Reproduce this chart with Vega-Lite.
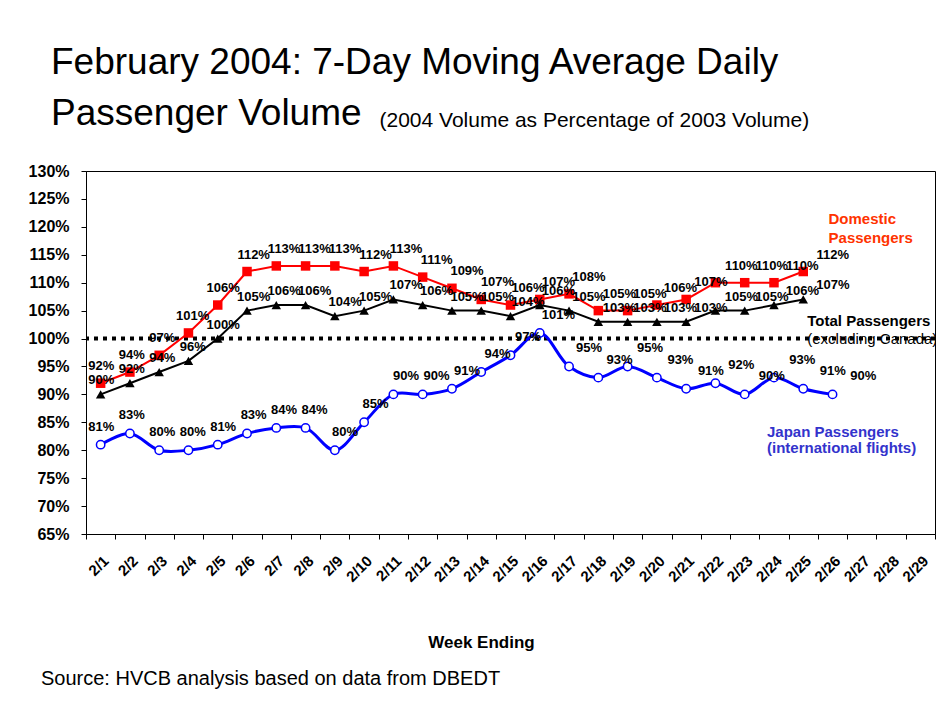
{
  "$schema": "https://vega.github.io/schema/vega-lite/v6.json",
  "background": "white",
  "autosize": {"type": "pad"},
  "padding": {"left": 27, "top": 43, "right": 0, "bottom": 0},
  "config": {
    "font": "Liberation Sans",
    "view": {"stroke": "black", "strokeWidth": 1},
    "axis": {"domainColor": "black", "tickColor": "black", "labelColor": "black", "titleColor": "black", "grid": false, "domainWidth": 1, "tickWidth": 1},
    "axisY": {"labelFontSize": 16, "labelFontWeight": "bold", "labelPadding": 12, "labelFlush": false, "labelOverlap": false, "tickSize": 5}
  },
  "title": {
    "text": "Source:  HVCB analysis based on data from DBEDT",
    "orient": "bottom", "anchor": "start", "frame": "group",
    "font": "Liberation Sans", "fontSize": 20, "fontWeight": "normal", "color": "black",
    "offset": 18, "dx": -45
  },
  "datasets": {
    "series": [
      {"date": "2/1", "series": "Domestic", "value": 0.92},
      {"date": "2/2", "series": "Domestic", "value": 0.94},
      {"date": "2/3", "series": "Domestic", "value": 0.97},
      {"date": "2/4", "series": "Domestic", "value": 1.01},
      {"date": "2/5", "series": "Domestic", "value": 1.06},
      {"date": "2/6", "series": "Domestic", "value": 1.12},
      {"date": "2/7", "series": "Domestic", "value": 1.13},
      {"date": "2/8", "series": "Domestic", "value": 1.13},
      {"date": "2/9", "series": "Domestic", "value": 1.13},
      {"date": "2/10", "series": "Domestic", "value": 1.12},
      {"date": "2/11", "series": "Domestic", "value": 1.13},
      {"date": "2/12", "series": "Domestic", "value": 1.11},
      {"date": "2/13", "series": "Domestic", "value": 1.09},
      {"date": "2/14", "series": "Domestic", "value": 1.07},
      {"date": "2/15", "series": "Domestic", "value": 1.06},
      {"date": "2/16", "series": "Domestic", "value": 1.07},
      {"date": "2/17", "series": "Domestic", "value": 1.08},
      {"date": "2/18", "series": "Domestic", "value": 1.05},
      {"date": "2/19", "series": "Domestic", "value": 1.05},
      {"date": "2/20", "series": "Domestic", "value": 1.06},
      {"date": "2/21", "series": "Domestic", "value": 1.07},
      {"date": "2/22", "series": "Domestic", "value": 1.10},
      {"date": "2/23", "series": "Domestic", "value": 1.10},
      {"date": "2/24", "series": "Domestic", "value": 1.10},
      {"date": "2/25", "series": "Domestic", "value": 1.12},
      {"date": "2/1", "series": "Total", "value": 0.90},
      {"date": "2/2", "series": "Total", "value": 0.92},
      {"date": "2/3", "series": "Total", "value": 0.94},
      {"date": "2/4", "series": "Total", "value": 0.96},
      {"date": "2/5", "series": "Total", "value": 1.00},
      {"date": "2/6", "series": "Total", "value": 1.05},
      {"date": "2/7", "series": "Total", "value": 1.06},
      {"date": "2/8", "series": "Total", "value": 1.06},
      {"date": "2/9", "series": "Total", "value": 1.04},
      {"date": "2/10", "series": "Total", "value": 1.05},
      {"date": "2/11", "series": "Total", "value": 1.07},
      {"date": "2/12", "series": "Total", "value": 1.06},
      {"date": "2/13", "series": "Total", "value": 1.05},
      {"date": "2/14", "series": "Total", "value": 1.05},
      {"date": "2/15", "series": "Total", "value": 1.04},
      {"date": "2/16", "series": "Total", "value": 1.06},
      {"date": "2/17", "series": "Total", "value": 1.05},
      {"date": "2/18", "series": "Total", "value": 1.03},
      {"date": "2/19", "series": "Total", "value": 1.03},
      {"date": "2/20", "series": "Total", "value": 1.03},
      {"date": "2/21", "series": "Total", "value": 1.03},
      {"date": "2/22", "series": "Total", "value": 1.05},
      {"date": "2/23", "series": "Total", "value": 1.05},
      {"date": "2/24", "series": "Total", "value": 1.06},
      {"date": "2/25", "series": "Total", "value": 1.07},
      {"date": "2/1", "series": "Japan", "value": 0.81},
      {"date": "2/2", "series": "Japan", "value": 0.83},
      {"date": "2/3", "series": "Japan", "value": 0.80},
      {"date": "2/4", "series": "Japan", "value": 0.80},
      {"date": "2/5", "series": "Japan", "value": 0.81},
      {"date": "2/6", "series": "Japan", "value": 0.83},
      {"date": "2/7", "series": "Japan", "value": 0.84},
      {"date": "2/8", "series": "Japan", "value": 0.84},
      {"date": "2/9", "series": "Japan", "value": 0.80},
      {"date": "2/10", "series": "Japan", "value": 0.85},
      {"date": "2/11", "series": "Japan", "value": 0.90},
      {"date": "2/12", "series": "Japan", "value": 0.90},
      {"date": "2/13", "series": "Japan", "value": 0.91},
      {"date": "2/14", "series": "Japan", "value": 0.94},
      {"date": "2/15", "series": "Japan", "value": 0.97},
      {"date": "2/16", "series": "Japan", "value": 1.01},
      {"date": "2/17", "series": "Japan", "value": 0.95},
      {"date": "2/18", "series": "Japan", "value": 0.93},
      {"date": "2/19", "series": "Japan", "value": 0.95},
      {"date": "2/20", "series": "Japan", "value": 0.93},
      {"date": "2/21", "series": "Japan", "value": 0.91},
      {"date": "2/22", "series": "Japan", "value": 0.92},
      {"date": "2/23", "series": "Japan", "value": 0.90},
      {"date": "2/24", "series": "Japan", "value": 0.93},
      {"date": "2/25", "series": "Japan", "value": 0.91},
      {"date": "2/26", "series": "Japan", "value": 0.90}
    ],
    "reference": [{"value": 1.0}],
    "notes": [
      {"key": "Domestic", "note": "Domestic\nPassengers"},
      {"key": "Total", "note": "Total Passengers"},
      {"key": "TotalSub", "note": "(excluding Canada)"},
      {"key": "Japan", "note": "Japan Passengers\n(international flights)"}
    ]
  },
  "vconcat": [
    {
      "width": 849,
      "height": 363,
      "title": {
        "text": ["February 2004: 7-Day Moving Average Daily", "Passenger Volume"],
        "orient": "top", "anchor": "start", "frame": "group",
        "font": "Liberation Sans", "fontSize": 37, "fontWeight": "normal", "color": "black",
        "baseline": "alphabetic", "lineHeight": 51, "dx": -35, "offset": -53
      },
      "layer": [
        {
          "data": {"name": "reference"},
          "mark": {"type": "rule", "color": "black", "strokeWidth": 4, "strokeDash": [4, 5]},
          "encoding": {
            "y": {
              "field": "value", "type": "quantitative",
              "scale": {"domain": [0.65, 1.3], "nice": false, "zero": false},
              "axis": {
                "values": [0.65, 0.7, 0.75, 0.8, 0.85, 0.9, 0.95, 1.0, 1.05, 1.1, 1.15, 1.2, 1.25, 1.3],
                "format": ".0%",
                "title": "(2004 Volume as Percentage of 2003 Volume)",
                "titleAngle": 0, "titleX": 293, "titleY": -45, "titleAlign": "left", "titleBaseline": "alphabetic",
                "titleFontSize": 21, "titleFontWeight": "normal",
                "labelFontSize": 16, "labelFontWeight": "bold", "labelPadding": 12, "labelFlush": false, "labelOverlap": false,
                "tickSize": 5, "grid": false
              }
            }
          }
        },
        {
          "data": {"name": "series"},
          "encoding": {
            "x": {
              "field": "date", "type": "ordinal", "sort": null, "bandPosition": 0.5,
              "scale": {"type": "band", "domain": ["2/1","2/2","2/3","2/4","2/5","2/6","2/7","2/8","2/9","2/10","2/11","2/12","2/13","2/14","2/15","2/16","2/17","2/18","2/19","2/20","2/21","2/22","2/23","2/24","2/25","2/26","2/27","2/28","2/29"], "paddingInner": 0, "paddingOuter": 0},
              "axis": {
                "title": "Week Ending", "tickBand": "extent", "labelAngle": -45,
                "labelFontSize": 15, "labelFontWeight": "bold", "labelPadding": 14, "tickSize": 5,
                "titleFontSize": 17, "titleFontWeight": "bold", "titleX": 395, "titleY": 113,
                "titleAlign": "center", "titleBaseline": "alphabetic"
              }
            },
            "y": {
              "field": "value", "type": "quantitative",
              "scale": {"domain": [0.65, 1.3], "nice": false, "zero": false},
              "axis": {
                "values": [0.65, 0.7, 0.75, 0.8, 0.85, 0.9, 0.95, 1.0, 1.05, 1.1, 1.15, 1.2, 1.25, 1.3],
                "format": ".0%",
                "title": "(2004 Volume as Percentage of 2003 Volume)",
                "titleAngle": 0, "titleX": 293, "titleY": -45, "titleAlign": "left", "titleBaseline": "alphabetic",
                "titleFontSize": 21, "titleFontWeight": "normal",
                "labelFontSize": 16, "labelFontWeight": "bold", "labelPadding": 12, "labelFlush": false, "labelOverlap": false,
                "tickSize": 5, "grid": false
              }
            }
          },
          "layer": [
            {"transform": [{"filter": "datum.series === 'Domestic'"}], "mark": {"type": "line", "color": "#FF0000", "strokeWidth": 2}},
            {"transform": [{"filter": "datum.series === 'Domestic'"}], "mark": {"type": "point", "shape": "square", "filled": true, "color": "#FF0000", "size": 90, "opacity": 1}},
            {"transform": [{"filter": "datum.series === 'Total'"}], "mark": {"type": "line", "color": "#000000", "strokeWidth": 2}},
            {"transform": [{"filter": "datum.series === 'Total'"}], "mark": {"type": "point", "shape": "triangle-up", "filled": true, "color": "#000000", "size": 90, "opacity": 1}},
            {"transform": [{"filter": "datum.series === 'Japan'"}], "mark": {"type": "line", "color": "#0000FF", "strokeWidth": 3, "interpolate": "catmull-rom"}},
            {"transform": [{"filter": "datum.series === 'Japan'"}], "mark": {"type": "point", "shape": "circle", "filled": true, "fill": "white", "stroke": "#0000FF", "strokeWidth": 1.5, "size": 70, "opacity": 1}}
          ]
        },
        {
          "data": {"name": "notes"},
          "layer": [
            {
              "transform": [{"filter": "datum.key === 'Domestic'"}],
              "mark": {"type": "text", "align": "left", "baseline": "alphabetic", "dx": -4, "fontSize": 15, "fontWeight": "bold", "color": "#FF3300", "lineBreak": "\n", "lineHeight": 19},
              "encoding": {
                "x": {"datum": "2/26", "type": "ordinal", "scale": {"type": "band", "domain": ["2/1","2/2","2/3","2/4","2/5","2/6","2/7","2/8","2/9","2/10","2/11","2/12","2/13","2/14","2/15","2/16","2/17","2/18","2/19","2/20","2/21","2/22","2/23","2/24","2/25","2/26","2/27","2/28","2/29"], "paddingInner": 0, "paddingOuter": 0}, "axis": null},
                "y": {"datum": 1.2051, "type": "quantitative", "axis": {"values": [0.65, 0.7, 0.75, 0.8, 0.85, 0.9, 0.95, 1.0, 1.05, 1.1, 1.15, 1.2, 1.25, 1.3], "format": ".0%", "title": "(2004 Volume as Percentage of 2003 Volume)", "titleAngle": 0, "titleX": 293, "titleY": -45, "titleAlign": "left", "titleBaseline": "alphabetic", "titleFontSize": 21, "titleFontWeight": "normal", "labelFontSize": 16, "labelFontWeight": "bold", "labelPadding": 12, "labelFlush": false, "labelOverlap": false, "tickSize": 5, "grid": false}},
                "text": {"field": "note", "type": "nominal"}
              }
            },
            {
              "transform": [{"filter": "datum.key === 'Total'"}],
              "mark": {"type": "text", "align": "left", "baseline": "alphabetic", "dx": 4, "fontSize": 15, "fontWeight": "bold", "color": "black"},
              "encoding": {
                "x": {"datum": "2/25", "type": "ordinal", "axis": null},
                "y": {"datum": 1.0225, "type": "quantitative", "axis": {"values": [0.65, 0.7, 0.75, 0.8, 0.85, 0.9, 0.95, 1.0, 1.05, 1.1, 1.15, 1.2, 1.25, 1.3], "format": ".0%", "title": "(2004 Volume as Percentage of 2003 Volume)", "titleAngle": 0, "titleX": 293, "titleY": -45, "titleAlign": "left", "titleBaseline": "alphabetic", "titleFontSize": 21, "titleFontWeight": "normal", "labelFontSize": 16, "labelFontWeight": "bold", "labelPadding": 12, "labelFlush": false, "labelOverlap": false, "tickSize": 5, "grid": false}},
                "text": {"field": "note", "type": "nominal"}
              }
            },
            {
              "transform": [{"filter": "datum.key === 'TotalSub'"}],
              "mark": {"type": "text", "align": "left", "baseline": "alphabetic", "dx": 4, "fontSize": 15, "fontWeight": "normal", "color": "black"},
              "encoding": {
                "x": {"datum": "2/25", "type": "ordinal", "axis": null},
                "y": {"datum": 0.9902, "type": "quantitative", "axis": {"values": [0.65, 0.7, 0.75, 0.8, 0.85, 0.9, 0.95, 1.0, 1.05, 1.1, 1.15, 1.2, 1.25, 1.3], "format": ".0%", "title": "(2004 Volume as Percentage of 2003 Volume)", "titleAngle": 0, "titleX": 293, "titleY": -45, "titleAlign": "left", "titleBaseline": "alphabetic", "titleFontSize": 21, "titleFontWeight": "normal", "labelFontSize": 16, "labelFontWeight": "bold", "labelPadding": 12, "labelFlush": false, "labelOverlap": false, "tickSize": 5, "grid": false}},
                "text": {"field": "note", "type": "nominal"}
              }
            },
            {
              "transform": [{"filter": "datum.key === 'Japan'"}],
              "mark": {"type": "text", "align": "left", "baseline": "alphabetic", "dx": -7, "fontSize": 15, "fontWeight": "bold", "color": "#3333CC", "lineBreak": "\n", "lineHeight": 16},
              "encoding": {
                "x": {"datum": "2/24", "type": "ordinal", "axis": null},
                "y": {"datum": 0.8237, "type": "quantitative", "axis": {"values": [0.65, 0.7, 0.75, 0.8, 0.85, 0.9, 0.95, 1.0, 1.05, 1.1, 1.15, 1.2, 1.25, 1.3], "format": ".0%", "title": "(2004 Volume as Percentage of 2003 Volume)", "titleAngle": 0, "titleX": 293, "titleY": -45, "titleAlign": "left", "titleBaseline": "alphabetic", "titleFontSize": 21, "titleFontWeight": "normal", "labelFontSize": 16, "labelFontWeight": "bold", "labelPadding": 12, "labelFlush": false, "labelOverlap": false, "tickSize": 5, "grid": false}},
                "text": {"field": "note", "type": "nominal"}
              }
            }
          ]
        },
        {
          "data": {"name": "series"},
          "encoding": {
            "x": {
              "field": "date", "type": "ordinal", "sort": null, "bandPosition": 0.5,
              "scale": {"type": "band", "domain": ["2/1","2/2","2/3","2/4","2/5","2/6","2/7","2/8","2/9","2/10","2/11","2/12","2/13","2/14","2/15","2/16","2/17","2/18","2/19","2/20","2/21","2/22","2/23","2/24","2/25","2/26","2/27","2/28","2/29"], "range": [0, 884], "paddingInner": 0, "paddingOuter": 0},
              "axis": null
            },
            "y": {
              "field": "value", "type": "quantitative",
              "scale": {"domain": [0.65, 1.3], "nice": false, "zero": false},
              "axis": {
                "values": [0.65, 0.7, 0.75, 0.8, 0.85, 0.9, 0.95, 1.0, 1.05, 1.1, 1.15, 1.2, 1.25, 1.3],
                "format": ".0%",
                "title": "(2004 Volume as Percentage of 2003 Volume)",
                "titleAngle": 0, "titleX": 293, "titleY": -45, "titleAlign": "left", "titleBaseline": "alphabetic",
                "titleFontSize": 21, "titleFontWeight": "normal",
                "labelFontSize": 16, "labelFontWeight": "bold", "labelPadding": 12, "labelFlush": false, "labelOverlap": false,
                "tickSize": 5, "grid": false
              }
            },
            "text": {"field": "value", "type": "quantitative", "format": ".0%"}
          },
          "layer": [
            {"transform": [{"filter": "datum.series === 'Domestic'"}], "mark": {"type": "text", "fontSize": 13, "fontWeight": "bold", "color": "black", "baseline": "middle", "dy": -17}},
            {"transform": [{"filter": "datum.series === 'Total'"}], "mark": {"type": "text", "fontSize": 13, "fontWeight": "bold", "color": "black", "baseline": "middle", "dy": -14}},
            {"transform": [{"filter": "datum.series === 'Japan'"}], "mark": {"type": "text", "fontSize": 13, "fontWeight": "bold", "color": "black", "baseline": "middle", "dy": -18}}
          ]
        }
      ],
      "resolve": {"scale": {"x": "independent"}, "axis": {"x": "independent"}}
    }
  ]
}
